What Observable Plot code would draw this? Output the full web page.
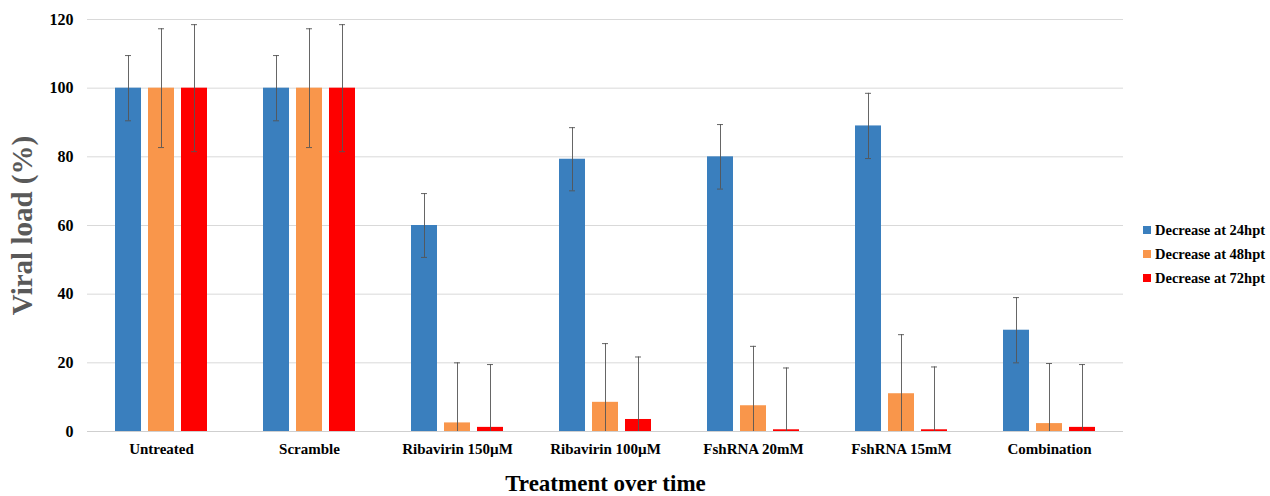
<!DOCTYPE html>
<html>
<head>
<meta charset="utf-8">
<script src="https://cdn.jsdelivr.net/npm/d3@7"></script>
<script src="https://cdn.jsdelivr.net/npm/@observablehq/plot@0.6"></script>
<style>
  html, body { margin: 0; padding: 0; background: #fff; }
  #wrap { position: relative; width: 1270px; height: 496px; }
  #legend { position: absolute; left: 1143px; top: 218px; font-family: "Liberation Serif", "Times New Roman", serif; font-weight: bold; font-size: 14.5px; color: #000; }
  #legend div { height: 24px; display: flex; align-items: center; white-space: nowrap; }
  #legend span.sw { display: inline-block; width: 8px; height: 8px; margin-right: 4px; }
</style>
</head>
<body>
<div id="wrap"></div>
<script>
const groups = ["Untreated", "Scramble", "Ribavirin 150µM", "Ribavirin 100µM", "FshRNA 20mM", "FshRNA 15mM", "Combination"];
const series = ["Decrease at 24hpt", "Decrease at 48hpt", "Decrease at 72hpt"];
const colors = ["#3a7fbe", "#f9964b", "#fe0000"];
const values24 = [100, 100, 60, 79.3, 80, 89, 29.5];
const values48 = [100, 100, 2.5, 8.5, 7.5, 11, 2.3];
const values72 = [100, 100, 1.2, 3.5, 0.5, 0.5, 1.2];
const err24 = [9.5, 9.5, 9.3, 9.2, 9.4, 9.5, 9.5];
const err48 = [17.3, 17.3, 17.5, 17.1, 17.3, 17.2, 17.5];
const err72 = [18.5, 18.5, 18.3, 18.2, 18.0, 18.3, 18.3];
const yTicks = [0, 20, 40, 60, 80, 100, 120];

const valueSets = [values24, values48, values72];
const errSets = [err24, err48, err72];
const data = [];
groups.forEach((g, i) => {
  series.forEach((s, j) => {
    const v = valueSets[j][i], e = errSets[j][i];
    data.push({group: g, series: s, value: v, lo: Math.max(0, v - e), hi: v + e, loCap: v - e > 0});
  });
});

const font = '"Liberation Serif", "Times New Roman", serif';
const chart = Plot.plot({
  width: 1270,
  height: 496,
  marginLeft: 86,
  marginRight: 147,
  marginTop: 19,
  marginBottom: 65,
  style: {fontFamily: font, background: "#fff"},
  fx: {domain: groups, padding: 0},
  x: {domain: series, paddingInner: 0.212, paddingOuter: 0.848, axis: null},
  y: {domain: [0, 120]},
  color: {domain: series, range: colors},
  marks: [
    Plot.gridY(yTicks, {stroke: "#d9d9d9", strokeOpacity: 1, strokeWidth: 1}),
    Plot.ruleY([0], {stroke: "#cfcfcf", strokeWidth: 1.2}),
    Plot.barY(data, {fx: "group", x: "series", y: "value", fill: "series"}),
    Plot.ruleX(data, {fx: "group", x: "series", y1: "lo", y2: "hi", stroke: "#555", strokeWidth: 0.9}),
    Plot.tickY(data, {fx: "group", x: "series", y: "hi", stroke: "#555", strokeWidth: 0.9, insetLeft: 10, insetRight: 10}),
    Plot.tickY(data.filter(d => d.loCap), {fx: "group", x: "series", y: "lo", stroke: "#555", strokeWidth: 0.9, insetLeft: 10, insetRight: 10}),
    Plot.axisY(yTicks, {
      tickSize: 0, tickPadding: 14, fontSize: 16, fontWeight: "bold", fill: "#000",
      label: "Viral load (%)", labelAnchor: "center", labelArrow: "none", labelOffset: 76
    }),
    Plot.axisFx({
      anchor: "bottom",
      tickSize: 0, tickPadding: 12, fontSize: 15, fontWeight: "bold", fill: "#000",
      label: "Treatment over time", labelAnchor: "center", labelArrow: "none", labelOffset: 59
    })
  ]
});

// style axis labels
d3.select(chart).selectAll("g[aria-label='y-axis label'] text")
  .style("font-size", "29px").style("font-weight", "bold").style("fill", "#595959");
d3.select(chart).selectAll("g[aria-label='fx-axis label'] text")
  .style("font-size", "23px").style("font-weight", "bold").style("fill", "#000");

const wrap = document.getElementById("wrap");
wrap.appendChild(chart);

const legend = document.createElement("div");
legend.id = "legend";
series.forEach((s, j) => {
  const row = document.createElement("div");
  const sw = document.createElement("span");
  sw.className = "sw";
  sw.style.background = colors[j];
  row.appendChild(sw);
  row.appendChild(document.createTextNode(s));
  legend.appendChild(row);
});
wrap.appendChild(legend);
</script>
</body>
</html>
